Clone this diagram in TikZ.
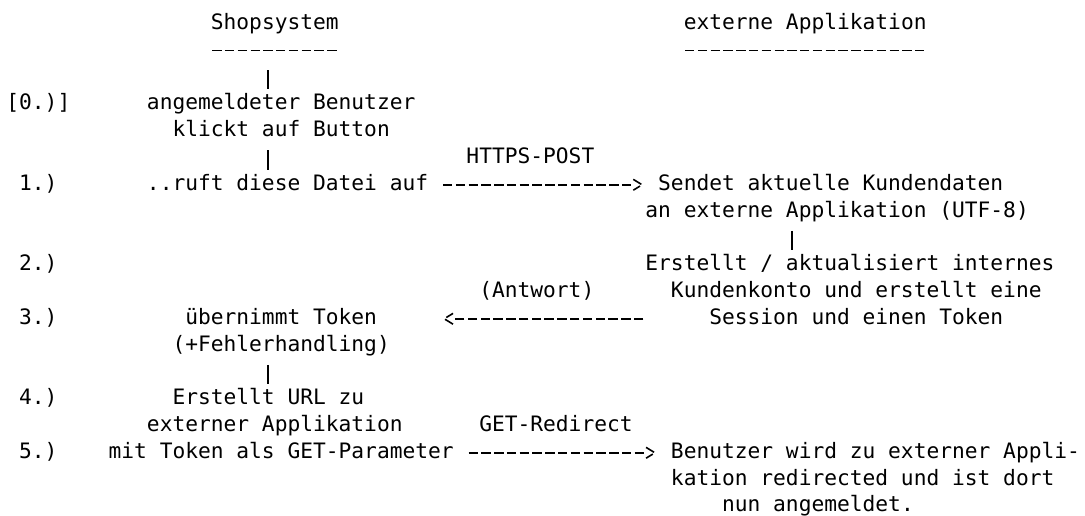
\documentclass[tikz,border=0pt]{standalone}
\usepackage{fontspec}
\usetikzlibrary{arrows.meta}
\newfontfamily\asciifont{DejaVu Sans Mono}

% open chevron like the ">" of the ascii arrows, the line stops at its back
\pgfdeclarearrow{
  name = Chevron,
  setup code = {
    \pgfarrowssettipend{0pt}
    \pgfarrowssetbackend{-4.4pt}
    \pgfarrowssetlineend{-4.4pt}
    \pgfarrowsupperhullpoint{-4.4pt}{2.7pt}
    \pgfarrowsupperhullpoint{0pt}{0pt}
  },
  drawing code = {
    \pgfsetroundjoin
    \pgfpathmoveto{\pgfqpoint{-4.4pt}{2.7pt}}
    \pgfpathlineto{\pgfqpoint{0pt}{0pt}}
    \pgfpathlineto{\pgfqpoint{-4.4pt}{-2.7pt}}
    \pgfusepathqstroke
  }
}

\begin{document}
\begin{tikzpicture}[
    x=6.39pt, y=-13.4pt,
    txt/.style={anchor=base west, inner sep=0pt, text height=8.07pt, text depth=2.55pt,
        font=\asciifont\fontsize{10.614pt}{13.4pt}\selectfont},
    rule/.style={line width=0.8pt, dash pattern=on 4.7pt off 1.69pt, shorten <=0.845pt, shorten >=0.845pt},
    vbar/.style={line width=0.8pt, shorten <=4.1pt, shorten >=2.08pt},
    flow/.style={-{Chevron}, line width=0.8pt, dash pattern=on 4.7pt off 1.69pt, shorten <=7.235pt, shorten >=7.84pt}
]
\useasboundingbox (-0.4695,-1.1007) rectangle (84.429,18.1157);
\fill[white] (-0.4695,-1.1007) rectangle (84.429,18.1157);

% heads of the two columns
\node[txt] (shop) at (16,0) {Shopsystem};
\node[txt] (extapp) at (53,0) {externe Applikation};
\draw[rule] ([yshift=-10.4pt]shop.base west) -- ([yshift=-10.4pt]shop.base east);
\draw[rule] ([yshift=-10.4pt]extapp.base west) -- ([yshift=-10.4pt]extapp.base east);

% step numbers
\node[txt] (n0) at (0,3) {[0.)]};
\node[txt] (n1) at (1,6) {1.)};
\node[txt] (n2) at (1,9) {2.)};
\node[txt] (n3) at (1,11) {3.)};
\node[txt] (n4) at (1,14) {4.)};
\node[txt] (n5) at (1,16) {5.)};

% shop side
\node[txt] (login) at (11,3) {angemeldeter Benutzer};
\node[txt] (button) at (13,4) {klickt auf Button};
\node[txt] (call) at (11,6) {..ruft diese Datei auf};
\node[txt] (token) at (14,11) {übernimmt Token};
\node[txt] (errors) at (13,12) {(+Fehlerhandling)};
\node[txt] (url) at (13,14) {Erstellt URL zu};
\node[txt] (urlapp) at (11,15) {externer Applikation};
\node[txt] (urlparam) at (8,16) {mit Token als GET-Parameter};

% external side
\node[txt] (send) at (51,6) {Sendet aktuelle Kundendaten};
\node[txt] (sendapp) at (50,7) {an externe Applikation (UTF-8)};
\node[txt] (account) at (50,9) {Erstellt / aktualisiert internes};
\node[txt] (accountb) at (52,10) {Kundenkonto und erstellt eine};
\node[txt] (session) at (55,11) {Session und einen Token};
\node[txt] (redir) at (52,16) {Benutzer wird zu externer Appli-};
\node[txt] (redirb) at (52,17) {kation redirected und ist dort};
\node[txt] (redirc) at (56,18) {nun angemeldet.};

% arrow labels
\node[txt] (post) at (36,5) {HTTPS-POST};
\node[txt] (answer) at (37,10) {(Antwort)};
\node[txt] (get) at (37,15) {GET-Redirect};

% vertical bars
\coordinate (barL) at (20.5,0);
\coordinate (barR) at (61.5,0);
\draw[vbar, shorten <=17.5pt] (shop.south -| barL) -- (login.north -| barL);
\draw[vbar] (button.south -| barL) -- (call.north -| barL);
\draw[vbar] (sendapp.south -| barR) -- (account.north -| barR);
\draw[vbar] (errors.south -| barL) -- (url.north -| barL);

% request, answer and redirect
\draw[flow] (call.east) -- (send.west);
\draw[flow, shorten <=32.795pt, shorten >=33.4pt] (session.west) -- (token.east);
\draw[flow] (urlparam.east) -- (redir.west);

\end{tikzpicture}
\end{document}
